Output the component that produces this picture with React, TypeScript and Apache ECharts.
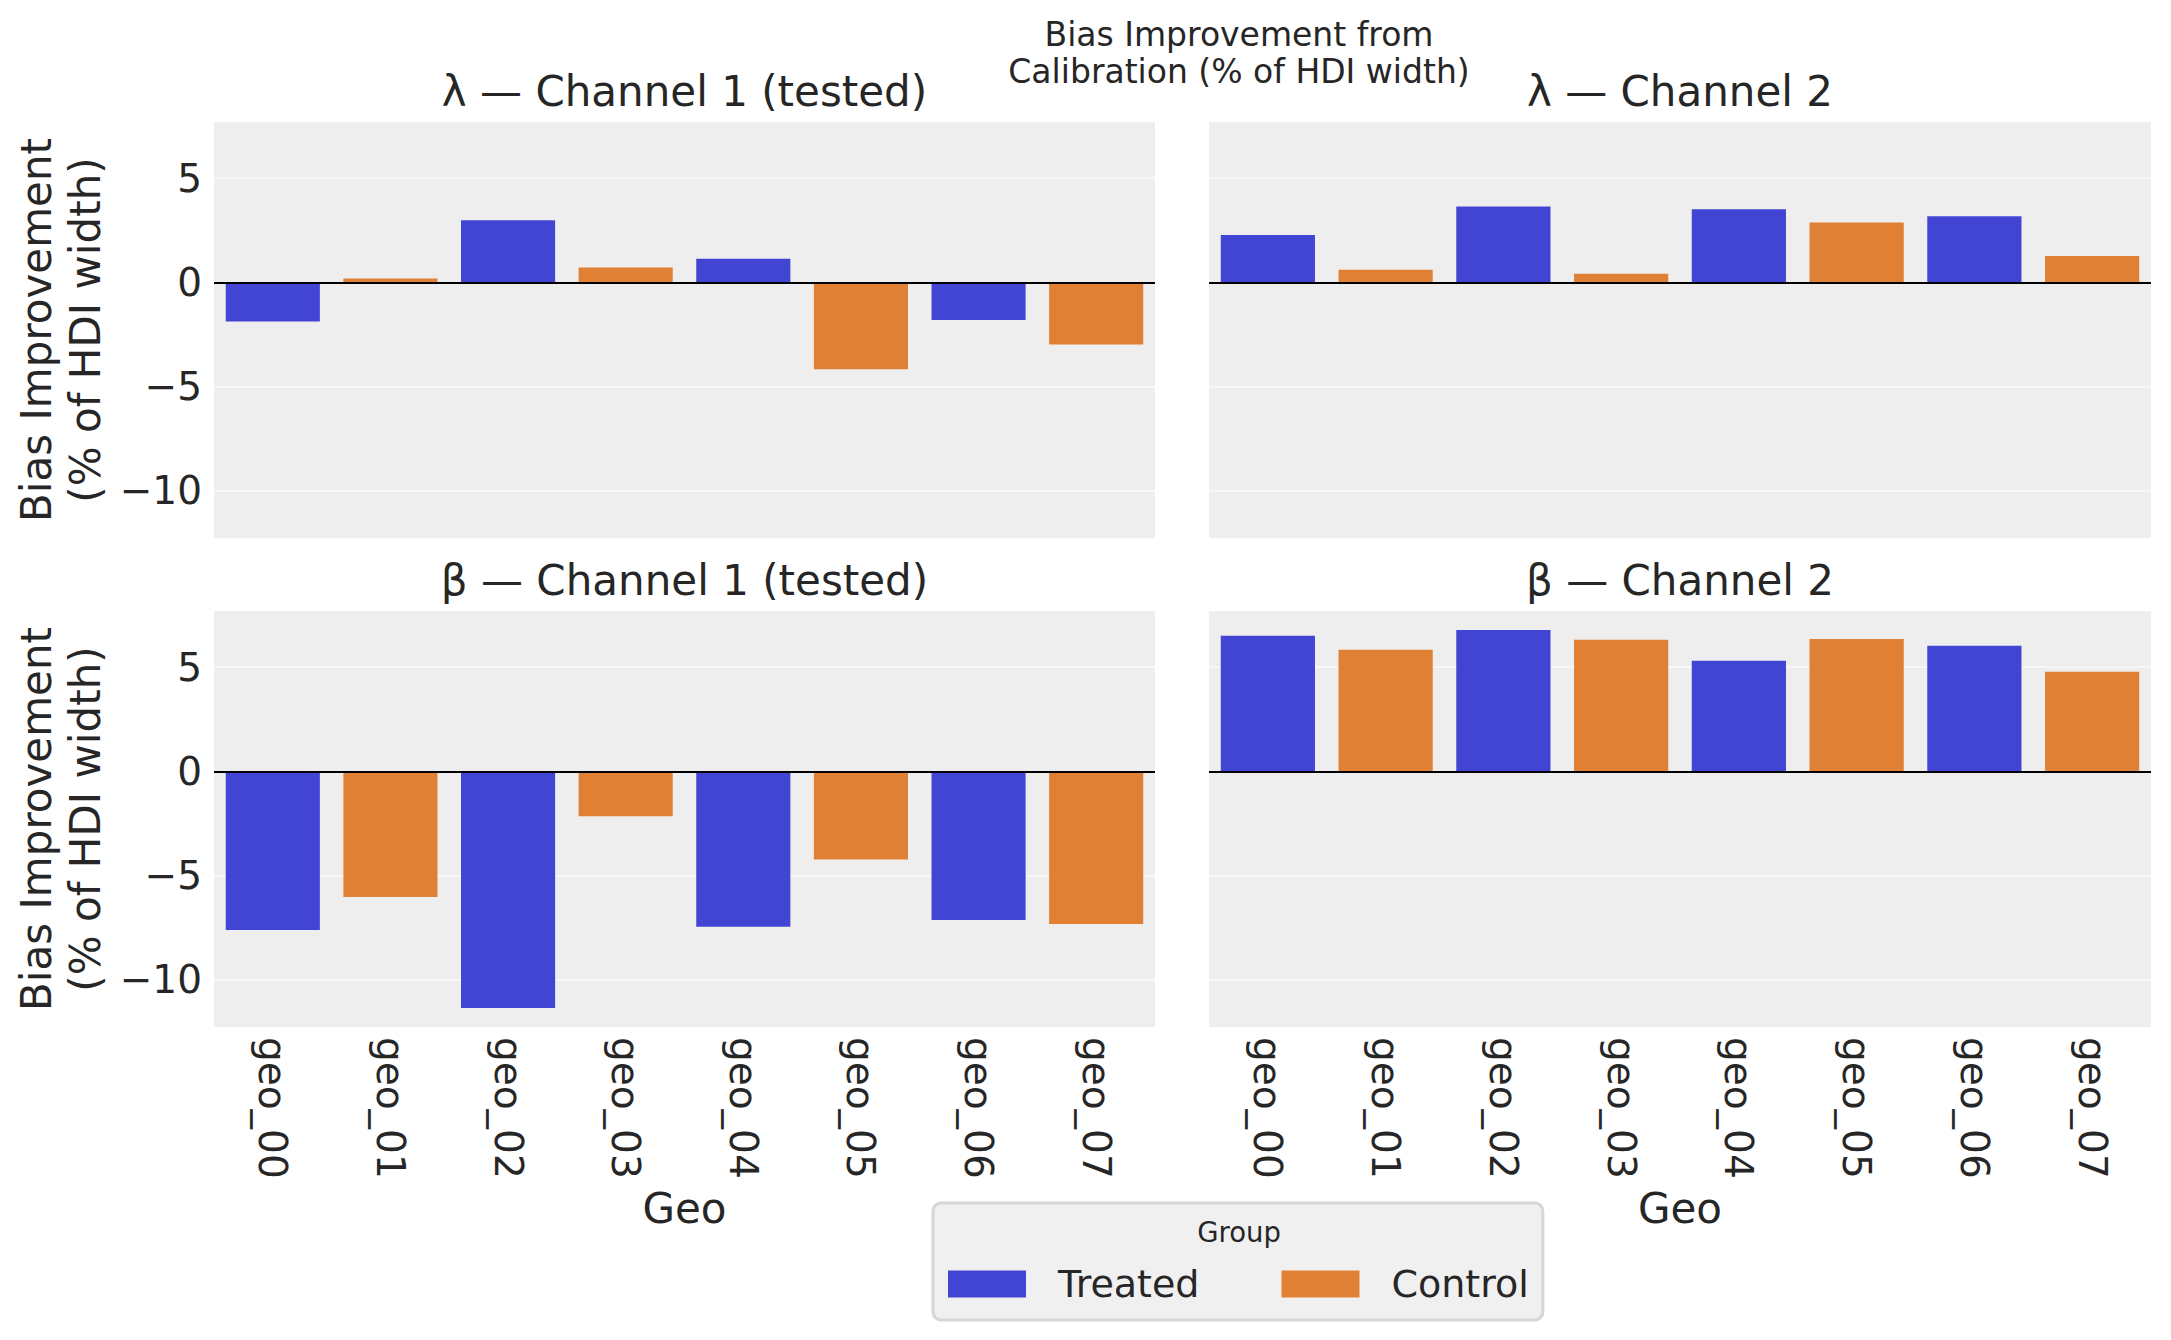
import * as echarts from "echarts";
import { useEffect, useRef } from "react";

const geos = ["geo_00", "geo_01", "geo_02", "geo_03", "geo_04", "geo_05", "geo_06", "geo_07"];
const geoGroups = ["Treated", "Control", "Treated", "Control", "Treated", "Control", "Treated", "Control"];
const groups = ["Treated", "Control"];
const groupColors = ["#4245d4", "#e08035"];

const lambdaCh1 = [-1.88, 0.19, 2.98, 0.71, 1.14, -4.17, -1.8, -2.98];
const lambdaCh2 = [2.27, 0.61, 3.64, 0.42, 3.51, 2.88, 3.17, 1.27];
const betaCh1 = [-7.61, -6.03, -11.36, -2.15, -7.46, -4.23, -7.13, -7.32];
const betaCh2 = [6.51, 5.84, 6.79, 6.32, 5.31, 6.36, 6.03, 4.78];

const panelTitles = ["λ — Channel 1 (tested)", "λ — Channel 2", "β — Channel 1 (tested)", "β — Channel 2"];
const panelValues = [lambdaCh1, lambdaCh2, betaCh1, betaCh2];
const yTicks = [-10, -5, 0, 5];
const yMin = -12.27;
const yMax = 7.7;

const suptitle = "Bias Improvement from\nCalibration (% of HDI width)";
const yLabel = "Bias Improvement\n(% of HDI width)";
const xLabel = "Geo";
const legendTitle = "Group";

const FONT = "DejaVu Sans";
const INK = "#262626";

// panel boxes: [left, top, width, height]
const boxes = [
    [214, 122, 941, 416],
    [1209, 122, 942, 416],
    [214, 611, 941, 416],
    [1209, 611, 942, 416]
];

export default function App() {
    const chartRef = useRef<HTMLDivElement>(null);

    useEffect(() => {
        document.body.style.margin = "0";
        if (!chartRef.current) return;
        const chart = echarts.init(chartRef.current, null, { renderer: "svg" });

        const isLeft = (p: number) => p % 2 === 0;
        const isBottom = (p: number) => p >= 2;

        const series: any[] = [];
        panelValues.forEach((vals, p) => {
            groups.forEach((g, gi) => {
                series.push({
                    name: g,
                    type: "bar",
                    xAxisIndex: p,
                    yAxisIndex: p,
                    barGap: "-100%",
                    barCategoryGap: "20%",
                    itemStyle: { color: groupColors[gi] },
                    data: vals.map((v, i) => (geoGroups[i] === g ? v : null)),
                    markLine:
                        gi === 0
                            ? {
                                  silent: true,
                                  symbol: ["none", "none"],
                                  label: { show: false },
                                  lineStyle: { color: "#000", width: 2, type: "solid" },
                                  data: [{ yAxis: 0 }]
                              }
                            : undefined
                });
            });
        });

        const option: any = {
            animation: false,
            textStyle: { fontFamily: FONT, color: INK },
            title: [
                {
                    text: suptitle,
                    left: 1239,
                    top: 16,
                    textAlign: "center",
                    padding: 0,
                    textStyle: { fontFamily: FONT, fontSize: 33, lineHeight: 37, fontWeight: "normal", color: INK }
                },
                ...panelTitles.map((t, p) => ({
                    text: t,
                    left: boxes[p][0] + boxes[p][2] / 2,
                    top: boxes[p][1] - 56,
                    textAlign: "center",
                    padding: 0,
                    textStyle: { fontFamily: FONT, fontSize: 42, lineHeight: 50, fontWeight: "normal", color: INK }
                }))
            ],
            legend: {
                data: groups,
                left: 933,
                top: 1203,
                orient: "horizontal",
                icon: "rect",
                itemWidth: 78,
                itemHeight: 27,
                itemGap: 82,
                padding: [62, 14, 17, 15],
                backgroundColor: "#f0f0f0",
                borderColor: "#d6d6d6",
                borderWidth: 3,
                borderRadius: 8,
                selectedMode: false,
                textStyle: { fontFamily: FONT, fontSize: 38, color: INK, padding: [0, 0, 0, 27] }
            },
            graphic: [
                {
                    type: "text",
                    z: 100,
                    x: 1239,
                    y: 1232,
                    style: {
                        text: legendTitle,
                        fontFamily: FONT,
                        fontSize: 27.5,
                        fill: INK,
                        align: "center",
                        verticalAlign: "middle"
                    }
                }
            ],
            grid: boxes.map((b) => ({
                left: b[0],
                top: b[1],
                width: b[2],
                height: b[3],
                show: true,
                backgroundColor: "#eeeeee",
                borderWidth: 0,
                containLabel: false
            })),
            xAxis: boxes.map((_, p) => ({
                type: "category",
                gridIndex: p,
                data: geos,
                axisLine: { show: false },
                axisTick: { show: false },
                splitLine: { show: false },
                axisLabel: {
                    show: isBottom(p),
                    rotate: -90,
                    margin: 10,
                    fontFamily: FONT,
                    fontSize: 39,
                    color: INK
                },
                name: isBottom(p) ? xLabel : "",
                nameLocation: "middle",
                nameGap: 160,
                nameTextStyle: { fontFamily: FONT, fontSize: 42, color: INK }
            })),
            yAxis: boxes.map((_, p) => ({
                type: "value",
                gridIndex: p,
                min: yMin,
                max: yMax,
                axisLine: { show: false },
                axisTick: { show: false, customValues: yTicks },
                splitLine: { show: true, lineStyle: { color: "#f7f7f7", width: 2 } },
                axisLabel: {
                    show: isLeft(p),
                    customValues: yTicks,
                    margin: 12,
                    fontFamily: FONT,
                    fontSize: 39,
                    color: INK,
                    formatter: (v: number) => (v < 0 ? "\u2212" + Math.abs(v) : String(v))
                },
                name: isLeft(p) ? yLabel : "",
                nameLocation: "middle",
                nameRotate: 90,
                nameGap: 104,
                nameTextStyle: { fontFamily: FONT, fontSize: 42, lineHeight: 49, color: INK }
            })),
            series
        };

        chart.setOption(option);

        const handleResize = () => chart.resize();
        window.addEventListener("resize", handleResize);
        return () => {
            window.removeEventListener("resize", handleResize);
            chart.dispose();
        };
    }, []);

    return <div ref={chartRef} style={{ width: 2171, height: 1340 }} />;
}
